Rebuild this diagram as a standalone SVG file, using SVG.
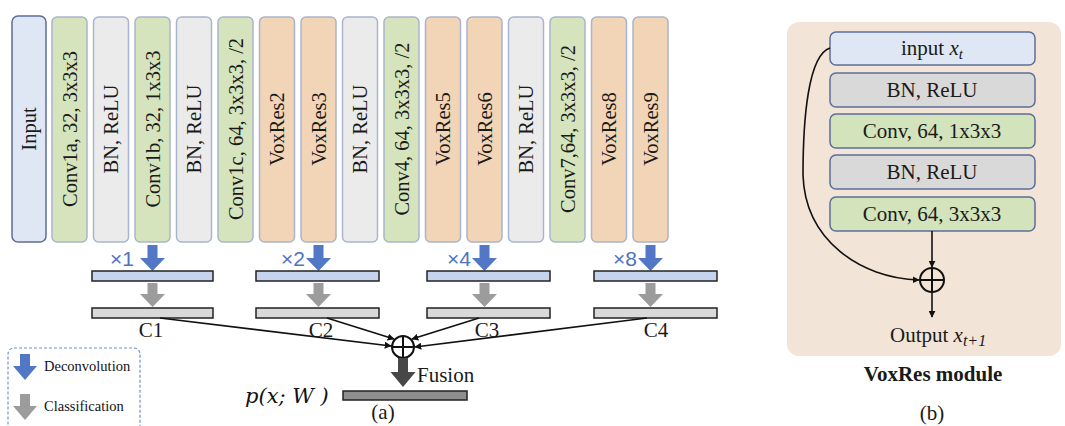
<svg xmlns="http://www.w3.org/2000/svg" width="1065" height="426" viewBox="0 0 1065 426">
  <defs>
    <style>
      .col { stroke: #a9b5cc; stroke-width: 1.5; }
      .conv { fill: #d5e4bd; }
      .bn { fill: #ebebeb; }
      .vox { fill: #f2d5b6; }
      .inp { fill: #dfe6f4; stroke: #5d6f95; stroke-width: 1.5; }
      .vt { font-family: "Liberation Serif", serif; font-size: 20.5px; fill: #1a1a1a; text-anchor: middle; dominant-baseline: central; }
      .lbl { font-family: "Liberation Serif", serif; font-size: 21px; fill: #1a1a1a; }
      .mul { font-family: "Liberation Sans", sans-serif; font-size: 21px; fill: #4e73c3; }
      .deconv { fill: #5277c6; }
      .cls { fill: #9c9c9c; }
      .bar-b { fill: #c6d3ef; stroke: #222; stroke-width: 1.5; }
      .bar-g { fill: #d9d9d9; stroke: #222; stroke-width: 1.5; }
      .link { fill: none; stroke: #111; stroke-width: 1.6; }
      .rbox { stroke: #5b6f98; stroke-width: 1.5; }
    </style>
    <marker id="ah" viewBox="0 0 10 10" refX="9" refY="5" markerWidth="7" markerHeight="7" markerUnits="userSpaceOnUse" orient="auto">
      <path d="M0,0 L10,5 L0,10 Z" fill="#111"/>
    </marker>
  </defs>

  <!-- (a) encoder columns -->
  <g id="input"><rect class="inp" x="12" y="16" width="34" height="226" rx="6"/><text class="vt" transform="translate(29,129) rotate(-90)">Input</text></g>
  <g id="conv1a"><rect class="col conv" x="52" y="17" width="35" height="225" rx="5"/><text class="vt" transform="translate(69.5,129) rotate(-90)">Conv1a, 32, 3x3x3</text></g>
  <g id="bn1"><rect class="col bn" x="93.5" y="17" width="35" height="225" rx="5"/><text class="vt" transform="translate(111,129) rotate(-90)">BN, ReLU</text></g>
  <g id="conv1b"><rect class="col conv" x="135" y="17" width="35" height="225" rx="5"/><text class="vt" transform="translate(152.5,129) rotate(-90)">Conv1b, 32, 1x3x3</text></g>
  <g id="bn2"><rect class="col bn" x="176.5" y="17" width="35" height="225" rx="5"/><text class="vt" transform="translate(194,129) rotate(-90)">BN, ReLU</text></g>
  <g id="conv1c"><rect class="col conv" x="218" y="17" width="35" height="225" rx="5"/><text class="vt" transform="translate(235.5,129) rotate(-90)">Conv1c, 64, 3x3x3, /2</text></g>
  <g id="voxres2"><rect class="col vox" x="259.5" y="17" width="35" height="225" rx="5"/><text class="vt" transform="translate(277,129) rotate(-90)">VoxRes2</text></g>
  <g id="voxres3"><rect class="col vox" x="301" y="17" width="35" height="225" rx="5"/><text class="vt" transform="translate(318.5,129) rotate(-90)">VoxRes3</text></g>
  <g id="bn3"><rect class="col bn" x="342.5" y="17" width="35" height="225" rx="5"/><text class="vt" transform="translate(360,129) rotate(-90)">BN, ReLU</text></g>
  <g id="conv4"><rect class="col conv" x="384" y="17" width="35" height="225" rx="5"/><text class="vt" transform="translate(401.5,129) rotate(-90)">Conv4, 64, 3x3x3, /2</text></g>
  <g id="voxres5"><rect class="col vox" x="425.5" y="17" width="35" height="225" rx="5"/><text class="vt" transform="translate(443,129) rotate(-90)">VoxRes5</text></g>
  <g id="voxres6"><rect class="col vox" x="467" y="17" width="35" height="225" rx="5"/><text class="vt" transform="translate(484.5,129) rotate(-90)">VoxRes6</text></g>
  <g id="bn4"><rect class="col bn" x="508.5" y="17" width="35" height="225" rx="5"/><text class="vt" transform="translate(526,129) rotate(-90)">BN, ReLU</text></g>
  <g id="conv7"><rect class="col conv" x="550" y="17" width="35" height="225" rx="5"/><text class="vt" transform="translate(567.5,129) rotate(-90)">Conv7,64, 3x3x3, /2</text></g>
  <g id="voxres8"><rect class="col vox" x="591.5" y="17" width="35" height="225" rx="5"/><text class="vt" transform="translate(609,129) rotate(-90)">VoxRes8</text></g>
  <g id="voxres9"><rect class="col vox" x="633" y="17" width="35" height="225" rx="5"/><text class="vt" transform="translate(650.5,129) rotate(-90)">VoxRes9</text></g>

  <!-- deconvolution branches -->
  <g id="branch1">
    <polygon class="deconv" points="147.5,245 157.5,245 157.5,258 165,258 152.5,271 140,258 147.5,258"/>
    <text class="mul" x="110" y="266">×1</text>
    <rect class="bar-b" x="92" y="271" width="121" height="10"/>
    <polygon class="cls" points="147.5,283 157.5,283 157.5,294 165,294 152.5,307 140,294 147.5,294"/>
    <rect class="bar-g" x="92" y="308" width="121" height="10"/>
    <text class="lbl" x="151" y="337" text-anchor="middle">C1</text>
  </g>
  <g id="branch2">
    <polygon class="deconv" points="313.5,245 323.5,245 323.5,258 331,258 318.5,271 306,258 313.5,258"/>
    <text class="mul" x="281" y="266">×2</text>
    <rect class="bar-b" x="256" y="271" width="123" height="10"/>
    <polygon class="cls" points="313.5,283 323.5,283 323.5,294 331,294 318.5,307 306,294 313.5,294"/>
    <rect class="bar-g" x="256" y="308" width="123" height="10"/>
    <text class="lbl" x="321" y="337" text-anchor="middle">C2</text>
  </g>
  <g id="branch3">
    <polygon class="deconv" points="479.5,245 489.5,245 489.5,258 497,258 484.5,271 472,258 479.5,258"/>
    <text class="mul" x="447" y="266">×4</text>
    <rect class="bar-b" x="427" y="271" width="123" height="10"/>
    <polygon class="cls" points="479.5,283 489.5,283 489.5,294 497,294 484.5,307 472,294 479.5,294"/>
    <rect class="bar-g" x="427" y="308" width="123" height="10"/>
    <text class="lbl" x="487" y="337" text-anchor="middle">C3</text>
  </g>
  <g id="branch4">
    <polygon class="deconv" points="645.5,245 655.5,245 655.5,258 663,258 650.5,271 638,258 645.5,258"/>
    <text class="mul" x="613" y="266">×8</text>
    <rect class="bar-b" x="594" y="271" width="123" height="10"/>
    <polygon class="cls" points="645.5,283 655.5,283 655.5,294 663,294 650.5,307 638,294 645.5,294"/>
    <rect class="bar-g" x="594" y="308" width="123" height="10"/>
    <text class="lbl" x="656" y="337" text-anchor="middle">C4</text>
  </g>

  <!-- fusion -->
  <g id="connectors">
    <line class="link" x1="160" y1="318" x2="391" y2="346" marker-end="url(#ah)"/>
    <line class="link" x1="327" y1="318" x2="394" y2="339" marker-end="url(#ah)"/>
    <line class="link" x1="479" y1="318" x2="412" y2="339" marker-end="url(#ah)"/>
    <line class="link" x1="647" y1="318" x2="415" y2="347" marker-end="url(#ah)"/>
  </g>
  <g id="fusion">
    <circle cx="403" cy="347" r="11" fill="#fff" stroke="#111" stroke-width="2"/>
    <line x1="392" y1="347" x2="414" y2="347" stroke="#111" stroke-width="2"/>
    <line x1="403" y1="336" x2="403" y2="358" stroke="#111" stroke-width="2"/>
    <polygon fill="#474747" points="398,358 408,358 408,372 415.5,372 403,387 390.5,372 398,372"/>
    <text class="lbl" x="417" y="382">Fusion</text>
  </g>
  <g id="output">
    <rect x="343" y="391" width="124" height="9" fill="#8e8e8e" stroke="#222" stroke-width="1.5"/>
    <text x="245" y="403" font-family="'DejaVu Serif', serif" font-style="italic" font-size="21" fill="#111">p(x; W )</text>
    <text class="lbl" x="383" y="419" text-anchor="middle" font-size="20">(a)</text>
  </g>

  <!-- legend -->
  <g id="legend">
    <rect x="8" y="348" width="132" height="86" rx="6" fill="#fff" stroke="#6f90d6" stroke-width="1.2" stroke-dasharray="3,2"/>
    <polygon class="deconv" points="20,354 30,354 30,366 37,366 25,380 13,366 20,366"/>
    <text x="44" y="371" font-family="'Liberation Serif', serif" font-size="14.5" fill="#111">Deconvolution</text>
    <polygon class="cls" points="20,394 30,394 30,406 37,406 25,420 13,406 20,406"/>
    <text x="44" y="411" font-family="'Liberation Serif', serif" font-size="14.5" fill="#111">Classification</text>
  </g>

  <!-- (b) VoxRes module -->
  <rect id="panel" x="787" y="22" width="274" height="334" rx="12" fill="#f3e4d8"/>
  <g id="r-input"><rect class="rbox" x="830" y="32" width="205" height="33" rx="6" fill="#e0e7f4"/><text class="lbl" x="932" y="55" text-anchor="middle">input <tspan font-style="italic">x</tspan><tspan font-style="italic" font-size="15" dy="4">t</tspan></text></g>
  <g id="r-bn1"><rect class="rbox" x="830" y="73" width="205" height="34" rx="6" fill="#d9d9d9"/><text class="lbl" x="932" y="97" text-anchor="middle">BN, ReLU</text></g>
  <g id="r-conv1"><rect class="rbox" x="830" y="114" width="205" height="34" rx="6" fill="#d3e3bc"/><text class="lbl" x="932" y="138" text-anchor="middle">Conv, 64, 1x3x3</text></g>
  <g id="r-bn2"><rect class="rbox" x="830" y="155" width="205" height="34" rx="6" fill="#d9d9d9"/><text class="lbl" x="932" y="179" text-anchor="middle">BN, ReLU</text></g>
  <g id="r-conv2"><rect class="rbox" x="830" y="197" width="205" height="34" rx="6" fill="#d3e3bc"/><text class="lbl" x="932" y="221" text-anchor="middle">Conv, 64, 3x3x3</text></g>
  <g id="r-connectors">
    <line class="link" x1="932" y1="231" x2="932" y2="267" marker-end="url(#ah)"/>
    <path class="link" d="M830,48 C808,55 803,120 803,175 C805,240 860,278 919,280" marker-end="url(#ah)"/>
    <line class="link" x1="932" y1="292" x2="932" y2="317" marker-end="url(#ah)"/>
  </g>
  <g id="r-sum">
    <circle cx="932" cy="280" r="12" fill="none" stroke="#111" stroke-width="2"/>
    <line x1="920" y1="280" x2="944" y2="280" stroke="#111" stroke-width="2"/>
    <line x1="932" y1="268" x2="932" y2="292" stroke="#111" stroke-width="2"/>
  </g>
  <text class="lbl" x="890" y="342">Output <tspan font-style="italic">x</tspan><tspan font-style="italic" font-size="16" dy="4">t+1</tspan></text>
  <text class="lbl" x="933" y="381" text-anchor="middle" font-weight="bold">VoxRes module</text>
  <text class="lbl" x="932" y="420" text-anchor="middle" font-size="20">(b)</text>
</svg>
